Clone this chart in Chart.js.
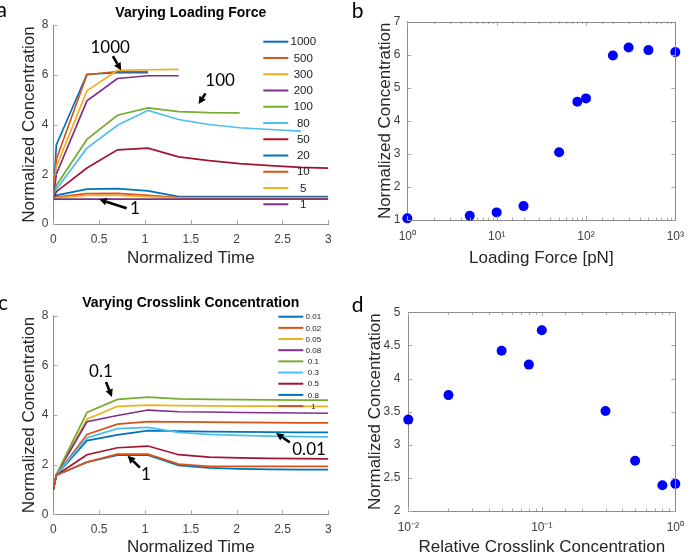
<!DOCTYPE html>
<html>
<head>
<meta charset="utf-8">
<script src="https://cdn.jsdelivr.net/npm/chart.js@4.4.0/dist/chart.umd.min.js"></script>
<style>
  html, body { margin: 0; padding: 0; background: #fff; }
  #wrap { position: relative; width: 693px; height: 555px; overflow: hidden; }
  canvas { position: absolute; }
</style>
</head>
<body>
<div id="wrap">
  <canvas id="chartA" width="346" height="277" style="left:0;top:0"></canvas>
  <canvas id="chartB" width="347" height="277" style="left:346px;top:0"></canvas>
  <canvas id="chartC" width="346" height="278" style="left:0;top:277px"></canvas>
  <canvas id="chartD" width="347" height="278" style="left:346px;top:277px"></canvas>
</div>
<script>
// time samples shared by the two time-course panels
const timePoints = [0, 0.033, 0.367, 0.7, 1.033, 1.367, 1.7, 2.033, 2.367, 2.7, 3.0];

// panel a: varying loading force
const forceLabels = ['1000', '500', '300', '200', '100', '80', '50', '20', '10', '5', '1'];
const force1000 = [1, 3.18, 6.02, 6.08, 6.08];
const force500 = [1, 2.6, 6.0, 6.13, 6.13];
const force300 = [1, 2.3, 5.35, 6.18, 6.2, 6.22];
const force200 = [1, 2.0, 4.95, 5.85, 5.96, 5.96];
const force100 = [1, 1.55, 3.4, 4.37, 4.67, 4.52, 4.48, 4.47];
const force80 = [1, 1.4, 3.05, 3.97, 4.57, 4.2, 4.0, 3.87, 3.8, 3.73];
const force50 = [1, 1.3, 2.25, 2.98, 3.05, 2.7, 2.55, 2.43, 2.35, 2.28, 2.25];
const force20 = [1, 1.15, 1.4, 1.42, 1.33, 1.1, 1.1, 1.1, 1.1, 1.1, 1.1];
const force10 = [1, 1.08, 1.22, 1.23, 1.15, 1.06, 1.06, 1.06, 1.06, 1.06, 1.06];
const force5 = [1, 1.05, 1.15, 1.15, 1.1, 1.04, 1.04, 1.04, 1.04, 1.04, 1.04];
const force1 = [1, 1, 1, 1, 1, 1, 1, 1, 1, 1, 1];
const forceCurves = [force1000, force500, force300, force200, force100, force80, force50, force20, force10, force5, force1];

// panel b: peak concentration vs loading force
const forceValues = [1, 5, 10, 20, 50, 80, 100, 200, 300, 500, 1000];
const forcePeak = [1.05, 1.13, 1.23, 1.42, 3.05, 4.58, 4.68, 5.98, 6.22, 6.14, 6.08];

// panel c: varying crosslink concentration
const crossLabels = ['0.01', '0.02', '0.05', '0.08', '0.1', '0.3', '0.5', '0.8', '1'];
const cross001 = [1, 1.58, 2.97, 3.2, 3.37, 3.35, 3.33, 3.32, 3.31, 3.3, 3.3];
const cross002 = [1, 1.58, 3.22, 3.63, 3.73, 3.72, 3.71, 3.7, 3.69, 3.68, 3.68];
const cross005 = [1, 1.6, 3.83, 4.35, 4.4, 4.38, 4.37, 4.36, 4.36, 4.35, 4.35];
const cross008 = [1, 1.6, 3.73, 3.98, 4.2, 4.13, 4.12, 4.1, 4.09, 4.08, 4.07];
const cross01 = [1, 1.6, 4.1, 4.63, 4.72, 4.65, 4.63, 4.62, 4.61, 4.6, 4.6];
const cross03 = [1, 1.58, 3.08, 3.45, 3.5, 3.3, 3.22, 3.18, 3.15, 3.13, 3.12];
const cross05 = [1, 1.57, 2.4, 2.68, 2.75, 2.4, 2.3, 2.27, 2.25, 2.24, 2.23];
const cross08 = [1, 1.57, 2.1, 2.38, 2.38, 1.97, 1.87, 1.83, 1.81, 1.8, 1.8];
const cross1 = [1, 1.57, 2.1, 2.42, 2.42, 2.02, 1.93, 1.93, 1.93, 1.93, 1.93];
const crossCurves = [cross001, cross002, cross005, cross008, cross01, cross03, cross05, cross08, cross1];

// panel d: peak concentration vs crosslink concentration
const crossValues = [0.01, 0.02, 0.05, 0.08, 0.1, 0.3, 0.5, 0.8, 1];
const crossPeak = [3.38, 3.75, 4.42, 4.21, 4.73, 3.51, 2.76, 2.39, 2.41];

const matlabColors = ['#0072BD', '#D95319', '#EDB120', '#7E2F8E', '#77AC30', '#4DBEEE', '#A2142F'];
const axisColor = '#8c8c8c';
const tickColor = '#404040';
const labelColor = '#262626';

Chart.defaults.font.family = '"Liberation Sans", Arial, sans-serif';
Chart.defaults.animation = false;

const supDigits = { '0': '\u2070', '1': '\u00b9', '2': '\u00b2', '3': '\u00b3', '-': '\u207b' };
function isPow10(v) {
  const e = Math.log10(v);
  return Math.abs(e - Math.round(e)) < 1e-6;
}
function powLabel(v) {
  if (!isPow10(v)) return '';
  return '10' + String(Math.round(Math.log10(v))).split('').map(c => supDigits[c]).join('');
}

function curveSets(labels, curves) {
  return labels.map((label, i) => ({
    label,
    data: curves[i].map((v, k) => ({ x: timePoints[k], y: v })),
    borderColor: matlabColors[i % matlabColors.length],
    borderWidth: 1.7,
    pointRadius: 0,
    fill: false,
    tension: 0,
    order: labels.length - i   // later series drawn on top, like MATLAB
  }));
}

// inward tick marks, optional box, and the panel letter
const matlabAxes = {
  id: 'matlabAxes',
  afterDraw(chart, args, opts) {
    const { ctx, chartArea: a, scales: { x, y } } = chart;
    ctx.save();
    ctx.strokeStyle = '#a8a8a8';
    ctx.lineWidth = 1;
    ctx.beginPath();
    x.ticks.forEach(t => {
      const px = Math.round(x.getPixelForValue(t.value)) + 0.5;
      const len = (!opts.log || isPow10(t.value)) ? 4 : 2.5;
      ctx.moveTo(px, a.bottom); ctx.lineTo(px, a.bottom - len);
      if (opts.box) { ctx.moveTo(px, a.top); ctx.lineTo(px, a.top + len); }
    });
    y.ticks.forEach(t => {
      const py = Math.round(y.getPixelForValue(t.value)) + 0.5;
      ctx.moveTo(a.left, py); ctx.lineTo(a.left + 4, py);
      if (opts.box) { ctx.moveTo(a.right, py); ctx.lineTo(a.right - 4, py); }
    });
    ctx.stroke();
    if (opts.box) {
      ctx.strokeStyle = axisColor;
      ctx.beginPath();
      ctx.moveTo(a.left, Math.round(a.top) + 0.5);
      ctx.lineTo(Math.round(a.right) + 0.5, Math.round(a.top) + 0.5);
      ctx.lineTo(Math.round(a.right) + 0.5, a.bottom);
      ctx.stroke();
    }
    ctx.fillStyle = '#000';
    ctx.font = '21px Lato, sans-serif';
    ctx.textAlign = 'left';
    ctx.textBaseline = 'alphabetic';
    ctx.fillText(opts.letter, opts.letterX, opts.letterY);
    ctx.restore();
  }
};

// legend drawn inside the axes, MATLAB style
const insideLegend = {
  id: 'insideLegend',
  afterDatasetsDraw(chart, args, opts) {
    if (!opts.display) return;
    const { ctx, chartArea: a } = chart;
    ctx.save();
    ctx.font = opts.fontSize + 'px "Liberation Sans", Arial, sans-serif';
    ctx.textAlign = 'center';
    ctx.textBaseline = 'middle';
    chart.data.datasets.forEach((ds, i) => {
      const yy = a.top + opts.top + i * opts.step;
      ctx.strokeStyle = ds.borderColor;
      ctx.lineWidth = 2;
      ctx.beginPath();
      ctx.moveTo(a.left + opts.lineFrom, yy);
      ctx.lineTo(a.left + opts.lineTo, yy);
      ctx.stroke();
      ctx.fillStyle = '#1a1a1a';
      ctx.fillText(ds.label, a.left + opts.textAt, yy + 0.5);
    });
    ctx.restore();
  }
};

// text callouts with arrows, anchored in data units
const arrowNotes = {
  id: 'arrowNotes',
  afterDatasetsDraw(chart, args, opts) {
    const { ctx, scales: { x, y } } = chart;
    ctx.save();
    (opts.items || []).forEach(n => {
      ctx.fillStyle = '#000';
      ctx.font = '17px Lato, sans-serif';
      ctx.textAlign = 'center';
      ctx.textBaseline = 'middle';
      ctx.fillText(n.text, x.getPixelForValue(n.tx), y.getPixelForValue(n.ty));
      const x0 = x.getPixelForValue(n.fromX), y0 = y.getPixelForValue(n.fromY);
      const x1 = x.getPixelForValue(n.toX), y1 = y.getPixelForValue(n.toY);
      const ang = Math.atan2(y1 - y0, x1 - x0);
      const head = 7.5, half = 3.8;
      const bx = x1 - head * Math.cos(ang), by = y1 - head * Math.sin(ang);
      ctx.strokeStyle = '#000';
      ctx.lineWidth = 2.6;
      ctx.beginPath();
      ctx.moveTo(x0, y0);
      ctx.lineTo(bx, by);
      ctx.stroke();
      ctx.beginPath();
      ctx.moveTo(x1, y1);
      ctx.lineTo(bx + half * Math.sin(ang), by - half * Math.cos(ang));
      ctx.lineTo(bx - half * Math.sin(ang), by + half * Math.cos(ang));
      ctx.closePath();
      ctx.fill();
    });
    ctx.restore();
  }
};

function axisTitle(text, padding) {
  return { display: true, text, color: labelColor, font: { size: 17 }, padding };
}

function timeCourse(id, labels, curves, cfg) {
  return new Chart(document.getElementById(id), {
    type: 'line',
    data: { datasets: curveSets(labels, curves) },
    plugins: [matlabAxes, insideLegend, arrowNotes],
    options: {
      responsive: false,
      layout: { padding: { left: cfg.padLeft, right: cfg.padRight, top: 0, bottom: 0 } },
      scales: {
        x: {
          type: 'linear', min: 0, max: 3,
          ticks: { stepSize: 0.5, padding: 8, color: tickColor, font: { size: 12 }, maxRotation: 0, callback: v => String(v) },
          grid: { display: false, drawTicks: false },
          border: { display: true, color: axisColor },
          title: axisTitle('Normalized Time', { top: 0, bottom: cfg.xTitlePad }),
          afterFit: s => { s.height = cfg.xHeight; }
        },
        y: {
          min: 0, max: 8,
          ticks: { stepSize: 2, padding: 5, color: tickColor, font: { size: 12 } },
          grid: { display: false, drawTicks: false },
          border: { display: true, color: axisColor },
          title: axisTitle('Normalized Concentration', { top: 4, bottom: 0 }),
          afterFit: s => { s.width = cfg.yWidth; }
        }
      },
      plugins: {
        legend: { display: false },
        tooltip: { enabled: false },
        title: {
          display: true, text: cfg.title, fullSize: false, color: '#000',
          font: { size: 14, weight: 'bold' }, padding: cfg.titlePad
        },
        matlabAxes: { letter: cfg.letter, letterX: cfg.letterX, letterY: cfg.letterY, box: false, log: false },
        insideLegend: cfg.legend,
        arrowNotes: { items: cfg.notes }
      }
    }
  });
}

function peakScatter(id, xs, ys, cfg) {
  return new Chart(document.getElementById(id), {
    type: 'scatter',
    data: {
      datasets: [{
        data: xs.map((v, i) => ({ x: v, y: ys[i] })),
        backgroundColor: '#0000ff',
        borderWidth: 0,
        pointRadius: 5,
        clip: false
      }]
    },
    plugins: [matlabAxes],
    options: {
      responsive: false,
      layout: { padding: { left: cfg.padLeft, right: cfg.padRight, top: cfg.padTop, bottom: 0 } },
      scales: {
        x: {
          type: 'logarithmic', min: cfg.xMin, max: cfg.xMax,
          ticks: { autoSkip: false, maxRotation: 0, minRotation: 0, padding: 9, color: tickColor, font: { size: 12 }, callback: powLabel },
          grid: { display: false, drawTicks: false },
          border: { display: true, color: axisColor },
          title: axisTitle(cfg.xTitle, { top: 0, bottom: cfg.xTitlePad }),
          afterFit: s => { s.height = cfg.xHeight; }
        },
        y: {
          min: cfg.yMin, max: cfg.yMax,
          ticks: { stepSize: cfg.yStep, padding: cfg.yTickPad, color: tickColor, font: { size: 12 }, callback: v => String(v) },
          grid: { display: false, drawTicks: false },
          border: { display: true, color: axisColor },
          title: axisTitle('Normalized Concentration', { top: 4, bottom: 0 }),
          afterFit: s => { s.width = cfg.yWidth; }
        }
      },
      plugins: {
        legend: { display: false },
        tooltip: { enabled: false },
        matlabAxes: { letter: cfg.letter, letterX: cfg.letterX, letterY: cfg.letterY, box: true, log: true }
      }
    }
  });
}

timeCourse('chartA', forceLabels, forceCurves, {
  title: 'Varying Loading Force',
  titlePad: { top: 4.9, bottom: 3.3 },
  padLeft: 15, padRight: 17.7, yWidth: 38.3, xHeight: 53, xTitlePad: 8.8,
  letter: 'a', letterX: -3.5, letterY: 17,
  legend: { display: true, top: 16.7, step: 16.26, lineFrom: 210, lineTo: 235, textAt: 250, fontSize: 11.5 },
  notes: [
    { text: '1000', tx: 0.62, ty: 7.1, fromX: 0.65, fromY: 6.75, toX: 0.74, toY: 6.18 },
    { text: '100', tx: 1.82, ty: 5.78, fromX: 1.66, fromY: 5.25, toX: 1.585, toY: 4.82 },
    { text: '1', tx: 0.89, ty: 0.64, fromX: 0.80, fromY: 0.63, toX: 0.50, toY: 0.99 }
  ]
});

peakScatter('chartB', forceValues, forcePeak, {
  xMin: 1, xMax: 1000, yMin: 1, yMax: 7, yStep: 1,
  xTitle: 'Loading Force [pN]',
  padLeft: 24.8, padRight: 9.7, padTop: 21.7, yWidth: 36.5, xHeight: 57, xTitlePad: 8.5, yTickPad: 7,
  letter: 'b', letterX: 5.7, letterY: 18.3
});

timeCourse('chartC', crossLabels, crossCurves, {
  title: 'Varying Crosslink Concentration',
  titlePad: { top: 17.6, bottom: 4.3 },
  padLeft: 15, padRight: 17.7, yWidth: 38.3, xHeight: 40.7, xTitlePad: -2.6,
  letter: 'c', letterX: -2, letterY: 33,
  legend: { display: true, top: 1, step: 11.17, lineFrom: 225, lineTo: 250, textAt: 260, fontSize: 8 },
  notes: [
    { text: '0.1', tx: 0.52, ty: 5.75, fromX: 0.575, fromY: 5.33, toX: 0.64, toY: 4.73 },
    { text: '0.01', tx: 2.79, ty: 2.59, fromX: 2.58, fromY: 2.9, toX: 2.43, toY: 3.27 },
    { text: '1', tx: 1.01, ty: 1.62, fromX: 0.945, fromY: 1.88, toX: 0.81, toY: 2.36 }
  ]
});

peakScatter('chartD', crossValues, crossPeak, {
  xMin: 0.01, xMax: 1, yMin: 2, yMax: 5, yStep: 0.5,
  xTitle: 'Relative Crosslink Concentration',
  padLeft: 14.8, padRight: 9.7, padTop: 35.3, yWidth: 47.5, xHeight: 44, xTitlePad: -2.6, yTickPad: 8,
  letter: 'd', letterX: 5.7, letterY: 34.7
});
</script>
</body>
</html>
